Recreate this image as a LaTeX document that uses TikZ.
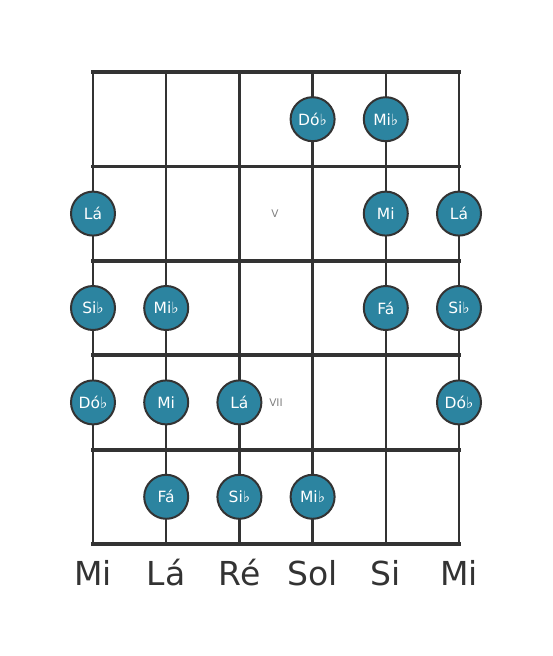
\documentclass[tikz,border=0pt]{standalone}
\usepackage{fontspec}
\setmainfont{DejaVu Sans}
\usetikzlibrary{calc}

\definecolor{notacor}{HTML}{2C84A0}
\definecolor{traco}{HTML}{333333}

\begin{document}
\begin{tikzpicture}[x=1pt,y=-1pt,
    corda/.style={traco, line width=2.4pt},
    traste/.style={traco, line width=3.8pt, line cap=rect},
    nota/.style={circle, draw=traco, line width=2pt, fill=notacor,
        minimum size=44pt, inner sep=0pt, text=white,
        font=\fontsize{15.5}{15.5}\selectfont},
    casa/.style={text=gray, font=\fontsize{10.5}{10.5}\selectfont},
    nome/.style={text=traco, font=\fontsize{33}{33}\selectfont}]
    \path[use as bounding box] (0,0) rectangle (553,656);

    % cordas e trastes
    \foreach \s in {0,...,5}
        \draw[corda] ({93+73.2*\s},72) -- ({93+73.2*\s},544);
    \foreach \f in {0,...,5}
        \draw[traste] (93,{72+94.4*\f}) -- (459,{72+94.4*\f});

    % marcas de casa
    \node[casa] (casaV) at (275,214) {V};
    \node[casa] (casaVII) at (276,403) {VII};

    % notas (corda/casa/texto)
    \foreach \c/\r/\t [count=\i] in {
        4/1/Dó♭, 5/1/Mi♭,
        1/2/Lá, 5/2/Mi, 6/2/Lá,
        1/3/Si♭, 2/3/Mi♭, 5/3/Fá, 6/3/Si♭,
        1/4/Dó♭, 2/4/Mi, 3/4/Lá, 6/4/Dó♭,
        2/5/Fá, 3/5/Si♭, 4/5/Mi♭}
        \node[nota] (nota\i) at ({93+73.2*(\c-1)},{72+94.4*(\r-0.5)}) {\t};

    % nomes das cordas
    \foreach \t [count=\i] in {Mi, Lá, Ré, Sol, Si, Mi}
        \node[nome] (corda\i) at ({93+73.2*(\i-1)},573) {\t};
\end{tikzpicture}
\end{document}
